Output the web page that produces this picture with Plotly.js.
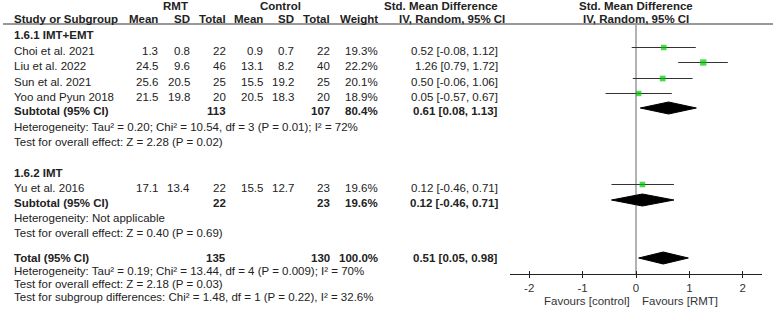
<!DOCTYPE html>
<html>
<head>
<meta charset="utf-8">
<script src="https://cdn.plot.ly/plotly-3.0.1.min.js"></script>
<style>html,body{margin:0;padding:0;background:#fff;}#chart{width:777px;height:316px;}</style>
</head>
<body>
<div id="chart"></div>
<script>
// ---------- data ----------
const subgroupNames = ["1.6.1 IMT+EMT", "1.6.2 IMT"];
const studies = ["Choi et al. 2021", "Liu et al. 2022", "Sun et al. 2021", "Yoo and Pyun 2018", "Yu et al. 2016"];
const studyGroup = [0, 0, 0, 0, 1];
const rmtMean = [1.3, 24.5, 25.6, 21.5, 17.1];
const rmtSD = [0.8, 9.6, 20.5, 19.8, 13.4];
const rmtTotal = [22, 46, 25, 20, 22];
const ctlMean = [0.9, 13.1, 15.5, 20.5, 15.5];
const ctlSD = [0.7, 8.2, 19.2, 18.3, 12.7];
const ctlTotal = [22, 40, 25, 20, 23];
const weight = [19.3, 22.2, 20.1, 18.9, 19.6];
const smd = [0.52, 1.26, 0.50, 0.05, 0.12];
const ciLow = [-0.08, 0.79, -0.06, -0.57, -0.46];
const ciHigh = [1.12, 1.72, 1.06, 0.67, 0.71];

const subRmtTotal = [113, 22];
const subCtlTotal = [107, 23];
const subWeight = [80.4, 19.6];
const subSmd = [0.61, 0.12];
const subLow = [0.08, -0.46];
const subHigh = [1.13, 0.71];
const subHet = ["Heterogeneity: Tau² = 0.20; Chi² = 10.54, df = 3 (P = 0.01); I² = 72%", "Heterogeneity: Not applicable"];
const subTest = ["Test for overall effect: Z = 2.28 (P = 0.02)", "Test for overall effect: Z = 0.40 (P = 0.69)"];

const totalRmt = [135];
const totalCtl = [130];
const totalWeight = [100.0];
const totalSmd = [0.51];
const totalLow = [0.05];
const totalHigh = [0.98];
const totalNotes = ["Heterogeneity: Tau² = 0.19; Chi² = 13.44, df = 4 (P = 0.009); I² = 70%",
  "Test for overall effect: Z = 2.18 (P = 0.03)",
  "Test for subgroup differences: Chi² = 1.48, df = 1 (P = 0.22), I² = 32.6%"];

const tickVals = [-2, -1, 0, 1, 2];
const tickText = ["-2", "-1", "0", "1", "2"];
const favoursLabels = ["Favours [control]", "Favours [RMT]"];
const groupHeaders = ["RMT", "Control", "Std. Mean Difference", "Std. Mean Difference"];
const colHeaders = ["Study or Subgroup", "Mean", "SD", "Total", "Mean", "SD", "Total", "Weight", "IV, Random, 95% CI", "IV, Random, 95% CI"];

// ---------- layout geometry (pixels) ----------
const W = 777, H = 316;
const FONT = "Liberation Sans, Arial, sans-serif";
const FS = 11.5;
const TXT = "#222";
const colX = {name: 12, rmtMean: 160, rmtSD: 192, rmtN: 228, ctlMean: 265, ctlSD: 296, ctlN: 332, weight: 380, eff: 500};
const rowY = {h1: 6, h2: 19, rule: 24,
  group: [35, 173], study: [51, 66, 82, 97, 188], sub: [111, 203], het: [127, 218], test: [142, 233],
  total: 258, notes: [271, 284, 297]};
const markOff = -3.5;   // marks sit slightly above the text line
const diamHalf = 6;
const axisY = 274;

const ann = [];
function t(text, px, py, anchor, bold, extra) {
  ann.push(Object.assign({text: bold ? "<b>" + text + "</b>" : text, x: px / W, y: py, xref: "paper", yref: "y",
    xanchor: anchor, yanchor: "middle", showarrow: false, font: {family: FONT, size: FS, color: TXT}}, extra || {}));
}
const f1 = v => v.toFixed(1);
const f2 = v => v.toFixed(2);
const eff = (m, l, h) => f2(m) + " [" + f2(l) + ", " + f2(h) + "]";

// headers
t(groupHeaders[0], 175, rowY.h1, "center", true);
t(groupHeaders[1], 280, rowY.h1, "center", true);
t(groupHeaders[2], 441, rowY.h1, "center", true);
t(groupHeaders[3], 636, rowY.h1, "center", true);
t(colHeaders[0], colX.name, rowY.h2, "left", true);
t(colHeaders[1], colX.rmtMean, rowY.h2, "right", true);
t(colHeaders[2], colX.rmtSD, rowY.h2, "right", true);
t(colHeaders[3], colX.rmtN, rowY.h2, "right", true);
t(colHeaders[4], colX.ctlMean, rowY.h2, "right", true);
t(colHeaders[5], colX.ctlSD, rowY.h2, "right", true);
t(colHeaders[6], colX.ctlN, rowY.h2, "right", true);
t(colHeaders[7], colX.weight, rowY.h2, "right", true);
t(colHeaders[8], 452, rowY.h2, "center", true);
t(colHeaders[9], 636, rowY.h2, "center", true);

// groups
subgroupNames.forEach((g, gi) => {
  t(g, colX.name, rowY.group[gi], "left", true);
  const ys = rowY.sub[gi];
  t("Subtotal (95% CI)", colX.name, ys, "left", true);
  t(String(subRmtTotal[gi]), colX.rmtN, ys, "right", true);
  t(String(subCtlTotal[gi]), colX.ctlN, ys, "right", true);
  t(f1(subWeight[gi]) + "%", colX.weight, ys, "right", true);
  t(eff(subSmd[gi], subLow[gi], subHigh[gi]), colX.eff, ys, "right", true);
  t(subHet[gi], colX.name, rowY.het[gi], "left", false);
  t(subTest[gi], colX.name, rowY.test[gi], "left", false);
});
// studies
studies.forEach((s, i) => {
  const y = rowY.study[i];
  t(s, colX.name, y, "left", false);
  t(f1(rmtMean[i]), colX.rmtMean, y, "right", false);
  t(f1(rmtSD[i]), colX.rmtSD, y, "right", false);
  t(String(rmtTotal[i]), colX.rmtN, y, "right", false);
  t(f1(ctlMean[i]), colX.ctlMean, y, "right", false);
  t(f1(ctlSD[i]), colX.ctlSD, y, "right", false);
  t(String(ctlTotal[i]), colX.ctlN, y, "right", false);
  t(f1(weight[i]) + "%", colX.weight, y, "right", false);
  t(eff(smd[i], ciLow[i], ciHigh[i]), colX.eff, y, "right", false);
});
// total
t("Total (95% CI)", colX.name, rowY.total, "left", true);
t(String(totalRmt[0]), colX.rmtN, rowY.total, "right", true);
t(String(totalCtl[0]), colX.ctlN, rowY.total, "right", true);
t(f1(totalWeight[0]) + "%", colX.weight, rowY.total, "right", true);
t(eff(totalSmd[0], totalLow[0], totalHigh[0]), colX.eff, rowY.total, "right", true);
totalNotes.forEach((n, k) => t(n, colX.name, rowY.notes[k], "left", false));

// favours labels
ann.push({text: favoursLabels[0], x: 0, xref: "x", y: 301, yref: "y", xanchor: "right", yanchor: "middle", xshift: -4,
  showarrow: false, font: {family: FONT, size: FS, color: "#333"}});
ann.push({text: favoursLabels[1], x: 0, xref: "x", y: 301, yref: "y", xanchor: "left", yanchor: "middle", xshift: 4,
  showarrow: false, font: {family: FONT, size: FS, color: "#333"}});

// ---------- traces ----------
const traces = [];
// study CIs + squares
traces.push({type: "scatter", mode: "markers",
  x: smd, y: rowY.study.map(v => v + markOff),
  marker: {symbol: "square", size: weight.map(w => w / 3.5), color: "#00c800", line: {width: 0}},
  error_x: {type: "data", symmetric: false, array: ciHigh.map((h, i) => h - smd[i]), arrayminus: smd.map((m, i) => m - ciLow[i]),
    color: "#333", thickness: 1, width: 0},
  hoverinfo: "skip", showlegend: false, cliponaxis: false});
// diamonds
function diamond(m, l, h, yc) {
  traces.push({type: "scatter", mode: "lines", x: [l, m, h, m, l], y: [yc, yc - diamHalf, yc, yc + diamHalf, yc],
    fill: "toself", fillcolor: "#000", line: {color: "#000", width: 1}, hoverinfo: "skip", showlegend: false});
}
subSmd.forEach((m, gi) => diamond(m, subLow[gi], subHigh[gi], rowY.sub[gi] - 3));
diamond(totalSmd[0], totalLow[0], totalHigh[0], rowY.total);
// dummy trace for overlay axis
traces.push({type: "scatter", x: [0], y: [0], xaxis: "x2", mode: "markers", marker: {opacity: 0}, hoverinfo: "skip", showlegend: false});

const axisPos = (H - axisY) / H;
const dom = [510 / W, 762 / W];
const layout = {
  width: W, height: H, margin: {l: 0, r: 0, t: 0, b: 0},
  paper_bgcolor: "#fff", plot_bgcolor: "rgba(0,0,0,0)",
  showlegend: false,
  font: {family: FONT, size: FS, color: TXT},
  xaxis: {domain: dom, range: [-2.36, 2.36], anchor: "free", position: axisPos,
    tickvals: tickVals, ticktext: tickText, ticks: "outside", ticklen: 3, tickwidth: 1, tickcolor: "#222",
    showline: true, linecolor: "#222", linewidth: 1, showgrid: false, zeroline: false,
    tickfont: {family: FONT, size: FS, color: "#333"}, fixedrange: true},
  xaxis2: {domain: dom, range: [-2.36, 2.36], anchor: "free", position: axisPos, overlaying: "x",
    tickvals: tickVals, ticks: "inside", ticklen: 3, tickwidth: 1, tickcolor: "#222",
    showticklabels: false, showline: false, showgrid: false, zeroline: false, fixedrange: true},
  yaxis: {domain: [0, 1], range: [H, 0], visible: false, fixedrange: true},
  shapes: [
    {type: "line", xref: "paper", yref: "y", x0: 3 / W, x1: 773 / W, y0: rowY.rule, y1: rowY.rule, line: {color: "#333", width: 1}},
    {type: "line", xref: "x", yref: "y", x0: 0, x1: 0, y0: rowY.rule + 1, y1: axisY, line: {color: "#666", width: 1}, layer: "below"}
  ],
  annotations: ann
};
Plotly.newPlot("chart", traces, layout, {staticPlot: true, displayModeBar: false});
</script>
</body>
</html>
